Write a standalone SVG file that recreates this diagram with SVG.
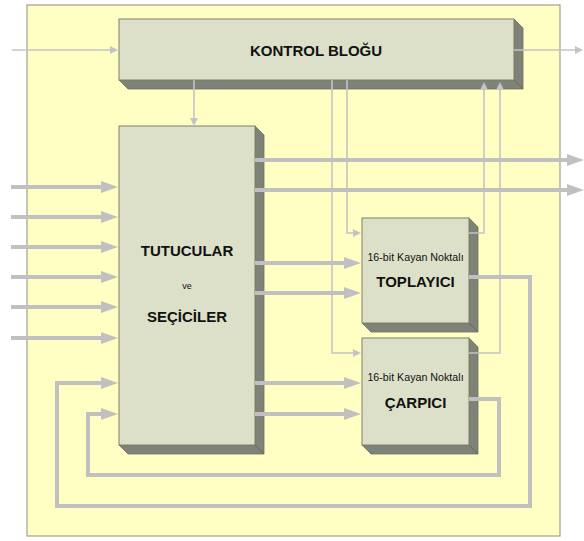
<svg xmlns="http://www.w3.org/2000/svg" width="584" height="541" viewBox="0 0 584 541">
<style>
.face{fill:#DCE0C9;stroke:#80806A;stroke-width:1}
.shade{fill:#7F8276;stroke:#6E7064;stroke-width:0.8}
.edge{stroke:#5E6056;stroke-width:0.8}
.thick{fill:none;stroke:#C0C0C0;stroke-width:4}
.thin{fill:none;stroke:#C4C4C4;stroke-width:1.6}
.t{font-family:"Liberation Sans",Arial,sans-serif;fill:#111;text-anchor:middle}
.b{font-weight:bold;font-size:15px}
.s{font-size:10.7px}
</style>
<defs>
<marker id="ah" markerUnits="userSpaceOnUse" markerWidth="20" markerHeight="14" refX="0" refY="0" orient="auto" overflow="visible">
<path d="M-7,-6 L10,0 L-7,6 Z" fill="#C0C0C0"/>
</marker>
<marker id="as" markerUnits="userSpaceOnUse" markerWidth="10" markerHeight="8" refX="0" refY="0" orient="auto" overflow="visible">
<path d="M-5,-4 L3,0 L-5,4 Z" fill="#C4C4C4"/>
</marker>
</defs>
<rect x="0" y="0" width="584" height="541" fill="#FFFFFF"/>
<rect x="27" y="5" width="533" height="531" fill="#FFFFC4" stroke="#A0A090" stroke-width="1.2"/>

<g id="kontrol">
<polygon class="shade" points="514,19 523,28 523,89 128,89 119,80 514,80"/>
<rect class="face" x="119" y="19" width="395" height="61"/>
<line class="edge" x1="514" y1="80" x2="523" y2="89"/>
<text class="t b" x="316" y="55.5">KONTROL BLOĞU</text>
</g>

<g id="tutucular">
<polygon class="shade" points="255,126 264,135 264,454 128,454 119,445 255,445"/>
<rect class="face" x="119" y="126" width="136" height="319"/>
<line class="edge" x1="255" y1="445" x2="264" y2="454"/>
<text class="t b" x="187" y="256">TUTUCULAR</text>
<text class="t" x="187" y="289" font-size="9">ve</text>
<text class="t b" x="187" y="322">SEÇİCİLER</text>
</g>

<g id="toplayici">
<polygon class="shade" points="469,218 478,227 478,332 371,332 362,323 469,323"/>
<rect class="face" x="362" y="218" width="107" height="105"/>
<line class="edge" x1="469" y1="323" x2="478" y2="332"/>
<text class="t s" x="415.5" y="260.5">16-bit Kayan Noktalı</text>
<text class="t b" x="415.5" y="286.5">TOPLAYICI</text>
</g>

<g id="carpici">
<polygon class="shade" points="469,338 478,347 478,454 371,454 362,445 469,445"/>
<rect class="face" x="362" y="338" width="107" height="107"/>
<line class="edge" x1="469" y1="445" x2="478" y2="454"/>
<text class="t s" x="415.5" y="380.5">16-bit Kayan Noktalı</text>
<text class="t b" x="415.5" y="408">ÇARPICI</text>
</g>

<g id="connectors">
<path class="thin" d="M12,50 H115" marker-end="url(#as)"/>
<path class="thin" d="M514,50 H580" marker-end="url(#as)"/>
<path class="thin" d="M194,80 V123" marker-end="url(#as)"/>
<path class="thin" d="M347,80 V233 H358" marker-end="url(#as)"/>
<path class="thin" d="M332,80 V353 H358" marker-end="url(#as)"/>
<path class="thin" d="M469,233 H484 V85" marker-end="url(#as)"/>
<path class="thin" d="M469,353 H500 V85" marker-end="url(#as)"/>

<path class="thick" d="M11,187 H108" marker-end="url(#ah)"/>
<path class="thick" d="M11,217 H108" marker-end="url(#ah)"/>
<path class="thick" d="M11,247 H108" marker-end="url(#ah)"/>
<path class="thick" d="M11,277 H108" marker-end="url(#ah)"/>
<path class="thick" d="M11,307 H108" marker-end="url(#ah)"/>
<path class="thick" d="M11,338 H108" marker-end="url(#ah)"/>

<path class="thick" d="M255,160 H574" marker-end="url(#ah)"/>
<path class="thick" d="M255,190 H574" marker-end="url(#ah)"/>
<path class="thick" d="M255,263 H351" marker-end="url(#ah)"/>
<path class="thick" d="M255,293 H351" marker-end="url(#ah)"/>
<path class="thick" d="M255,383 H351" marker-end="url(#ah)"/>
<path class="thick" d="M255,414 H351" marker-end="url(#ah)"/>

<path class="thick" d="M469,277 H530 V506 H57 V383 H108" marker-end="url(#ah)"/>
<path class="thick" d="M469,399 H499 V475 H88 V414 H108" marker-end="url(#ah)"/>
</g>
</svg>
